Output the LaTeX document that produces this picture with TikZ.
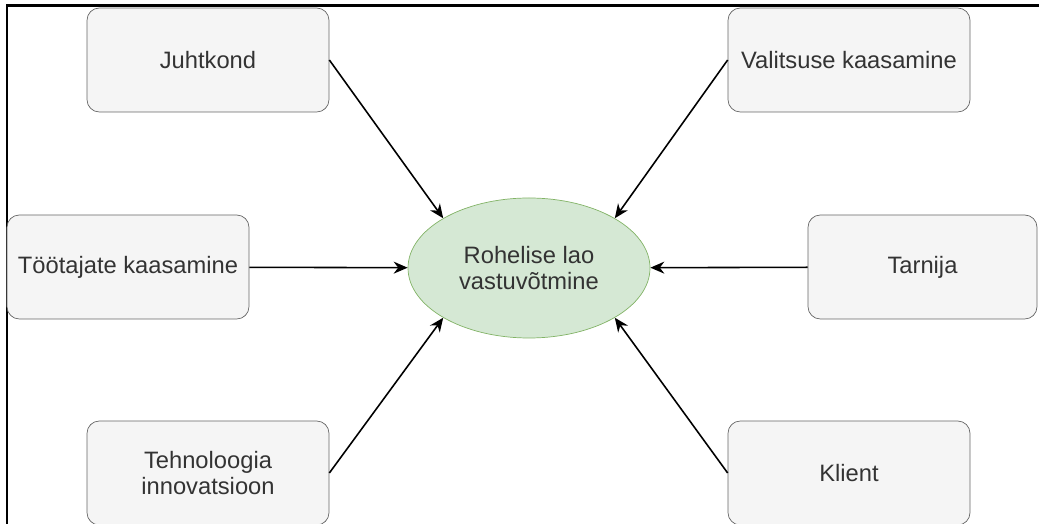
\documentclass[tikz,border=0pt]{standalone}
\usepackage{fontspec}
\setmainfont{Liberation Sans}
\usetikzlibrary{shapes.geometric,arrows.meta}
\definecolor{boxfill}{HTML}{F5F5F5}
\definecolor{boxline}{HTML}{666666}
\definecolor{goalfill}{HTML}{D5E8D4}
\definecolor{goalline}{HTML}{82B366}
\definecolor{txtgray}{HTML}{333333}
\begin{document}
\begin{tikzpicture}[
  box/.style={draw=boxline, fill=boxfill, rounded corners=7pt, minimum width=4.84cm, minimum height=2.08cm, inner sep=0pt, align=center, text=txtgray, font=\fontsize{13.5}{14.5}\selectfont},
  goal/.style={ellipse, draw=goalline, fill=goalfill, minimum width=4.84cm, minimum height=2.8cm, inner sep=0pt, align=center, text=txtgray, font=\fontsize{13.5}{14.5}\selectfont},
  arr/.style={->, >={Stealth[length=2.8mm, width=2.4mm]}, line width=0.9pt}
]
\useasboundingbox (0,0) rectangle (20.78,10.48);
\draw[line width=1.4pt] (0.14,0) -- (0.14,10.37) -- (20.78,10.37);
\node[goal] (center) at (10.58, 5.12) {Rohelise lao\\vastuvõtmine};
\node[box] (juhtkond)  at (4.16, 9.28)  {Juhtkond};
\node[box] (valitsus)  at (16.98, 9.28) {Valitsuse kaasamine};
\node[box] (tootajad)  at (2.56, 5.14)  {Töötajate kaasamine};
\node[box, minimum width=4.58cm] (tarnija) at (18.45, 5.14) {Tarnija};
\node[box] (tehnoloogia) at (4.16, 1.02) {Tehnoloogia\\innovatsioon};
\node[box] (klient)    at (16.98, 1.02) {Klient};
\draw[arr] (juhtkond.east)   -- (center.north west);
\draw[arr] (valitsus.west)   -- (center.north east);
\draw[arr] (tootajad)        -- (center);
\draw[arr] (tarnija)         -- (center);
\draw[arr] (tehnoloogia.east) -- (center.south west);
\draw[arr] (klient.west)     -- (center.south east);
\end{tikzpicture}
\end{document}
